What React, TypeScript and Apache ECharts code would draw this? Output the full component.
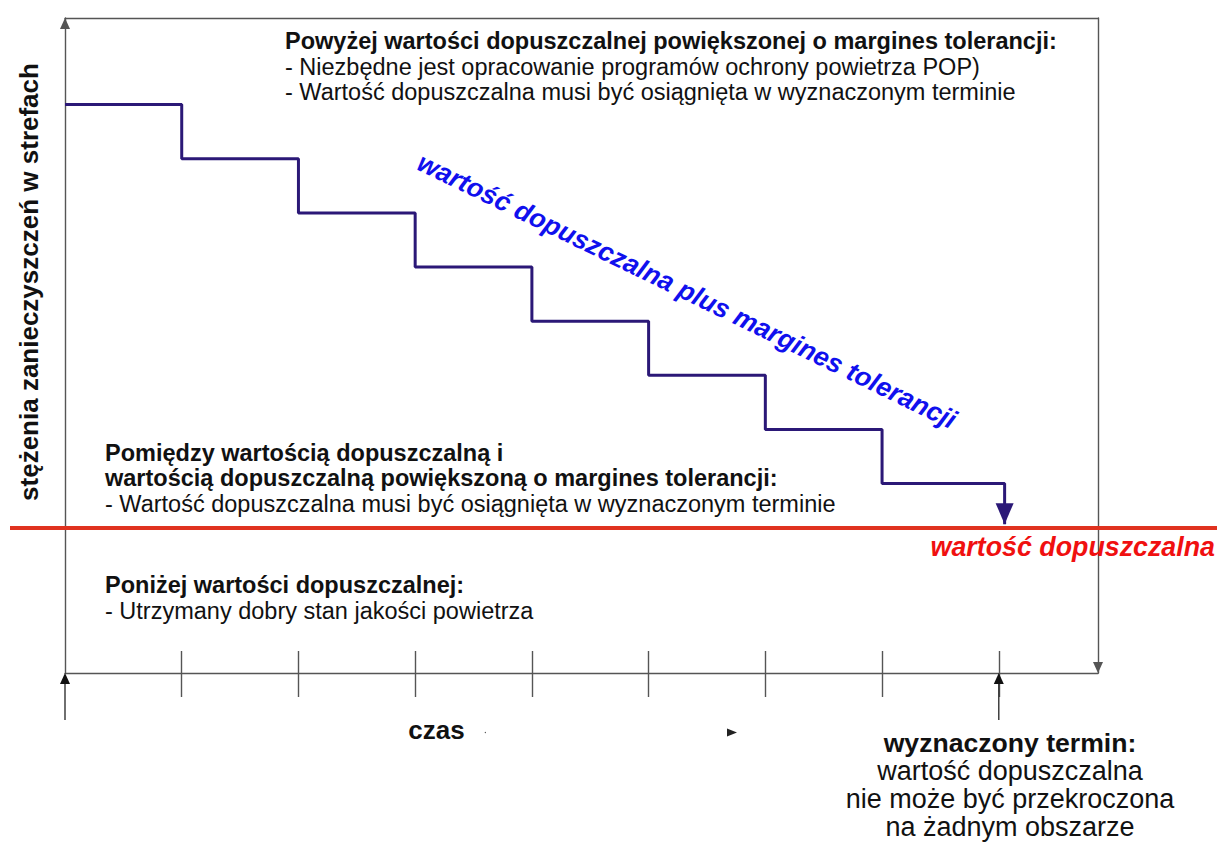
import React, { useEffect, useRef } from "react";
import * as echarts from "echarts";

// ---- data ----
const stepX = [0, 1, 2, 3, 4, 5, 6, 7, 8.05];
const stepY = [105, 95, 85, 75, 65, 55, 45, 35, 35];
const arrowEnd = [8.05, 27.5];
const limitValue = 26.8;
const deadlineX = 8;
const tickPositions = [1, 2, 3, 4, 5, 6, 7, 8];
const xMax = 8.85;
const yMax = 121;

// ---- texts ----
const yTitle = "stężenia zanieczyszczeń w strefach";
const xTitle = "czas";
const stepLabel = "wartość dopuszczalna plus margines tolerancji";
const limitLabel = "wartość dopuszczalna";
const aboveLines = [
  "Powyżej wartości dopuszczalnej powiększonej o margines tolerancji:",
  "- Niezbędne jest opracowanie programów ochrony powietrza POP)",
  "- Wartość dopuszczalna musi być osiągnięta w wyznaczonym terminie",
];
const betweenLines = [
  "Pomiędzy wartością dopuszczalną i",
  "wartością dopuszczalną powiększoną o margines tolerancji:",
  "- Wartość dopuszczalna musi być osiągnięta w wyznaczonym terminie",
];
const belowLines = [
  "Poniżej wartości dopuszczalnej:",
  "- Utrzymany dobry stan jakości powietrza",
];
const deadlineLines = [
  "wyznaczony termin:",
  "wartość dopuszczalna",
  "nie może być przekroczona",
  "na żadnym obszarze",
];

const FONT = '"Liberation Sans", Arial, Helvetica, sans-serif';
const AXIS = "#555";

function txt(
  x: number,
  y: number,
  text: string,
  size: number,
  bold: boolean,
  extra: any = {}
) {
  const align = extra.align || "left";
  return {
    type: "text",
    x,
    y,
    rotation: extra.rotation || 0,
    z: 10,
    style: {
      text,
      fontSize: size,
      lineHeight: extra.lineHeight || Math.round(size * 1.1),
      fontWeight: bold ? "bold" : "normal",
      fontStyle: extra.italic ? "italic" : "normal",
      fontFamily: FONT,
      fill: extra.color || "#111",
      align,
      verticalAlign: "middle",
    },
  };
}

export default function App() {
  const ref = useRef<HTMLDivElement>(null);
  useEffect(() => {
    if (!ref.current) return;
    const chart = echarts.init(ref.current, undefined, { renderer: "svg" });
    const lineData: any[] = stepX.map((x, i) => [x, stepY[i]]);
    lineData.push({
      value: arrowEnd,
      symbol: "triangle",
      symbolSize: [18, 21],
      symbolRotate: 180,
      symbolOffset: [0, -10.5],
      itemStyle: { color: "#2b1877" },
    });
    const axLine = { color: AXIS, width: 1.4 };
    const baseX = {
      type: "value",
      min: 0,
      max: xMax,
      axisLabel: { show: false },
      splitLine: { show: false },
    };
    const baseY = {
      type: "value",
      min: 0,
      max: yMax,
      axisLabel: { show: false },
      splitLine: { show: false },
      axisTick: { show: false },
    };
    chart.setOption({
      animation: false,
      backgroundColor: "#fff",
      grid: { left: 65, right: 119, top: 18, bottom: 169, containLabel: false },
      xAxis: [
        {
          ...baseX,
          position: "bottom",
          axisLine: { show: true, onZero: false, lineStyle: axLine },
          axisTick: {
            show: true,
            inside: true,
            length: 22,
            customValues: tickPositions,
            lineStyle: axLine,
          },
        },
        {
          ...baseX,
          position: "bottom",
          axisLine: { show: false, onZero: false },
          axisTick: {
            show: true,
            inside: false,
            length: 24,
            customValues: tickPositions,
            lineStyle: axLine,
          },
        },
        {
          ...baseX,
          position: "top",
          axisLine: { show: true, onZero: false, lineStyle: axLine },
          axisTick: { show: false },
        },
      ],
      yAxis: [
        {
          ...baseY,
          position: "left",
          axisLine: {
            show: true,
            onZero: false,
            symbol: ["none", "triangle"],
            symbolSize: [10, 11],
            symbolOffset: [0, -5.5],
            lineStyle: axLine,
          },
        },
        {
          ...baseY,
          position: "right",
          axisLine: {
            show: true,
            onZero: false,
            symbol: ["triangle", "none"],
            symbolSize: [10, 11],
            symbolOffset: [5.5, 0],
            lineStyle: axLine,
          },
        },
      ],
      series: [
        {
          type: "line",
          xAxisIndex: 0,
          yAxisIndex: 0,
          step: "end",
          data: lineData,
          symbol: "none",
          showSymbol: true,
          lineStyle: { color: "#2b1877", width: 3 },
          itemStyle: { color: "#2b1877" },
          z: 3,
        },
      ],
    });

    const p0 = chart.convertToPixel({ seriesIndex: 0 }, [0, 0]) as number[];
    const pD = chart.convertToPixel({ seriesIndex: 0 }, [deadlineX, 0]) as number[];
    const pL = chart.convertToPixel({ seriesIndex: 0 }, [0, limitValue]) as number[];
    const yB = p0[1];
    const arrowUp = (x: number) => [
      {
        type: "line",
        shape: { x1: x, y1: yB + 8, x2: x, y2: yB + 47 },
        style: { stroke: "#333", lineWidth: 1.4 },
        z: 5,
      },
      {
        type: "polygon",
        shape: { points: [[x, yB], [x - 5, yB + 11], [x + 5, yB + 11]] },
        style: { fill: "#111" },
        z: 5,
      },
    ];

    const g: any[] = [
      {
        type: "line",
        shape: { x1: 10, y1: pL[1], x2: 1217, y2: pL[1] },
        style: { stroke: "#e0321f", lineWidth: 4 },
        z: 1,
      },
      ...arrowUp(p0[0]),
      ...arrowUp(pD[0]),
      {
        type: "polygon",
        shape: { points: [[727, 728.5], [737, 732.5], [727, 736.5]] },
        style: { fill: "#222" },
      },
      { type: "circle", shape: { cx: 485.3, cy: 732.5, r: 0.6 }, style: { fill: "#444" } },
      txt(28.5, 282, yTitle, 26, true, { align: "center", rotation: Math.PI / 2 }),
      txt(436.5, 730, xTitle, 26, true, { align: "center" }),
      txt(687, 291, stepLabel, 26.6, true, {
        align: "center",
        italic: true,
        color: "#1010ee",
        rotation: (-26 * Math.PI) / 180,
      }),
      txt(1215, 547, limitLabel, 26.8, true, { align: "right", italic: true, color: "#f01010" }),
      ...aboveLines.map((t, i) =>
        txt(285, 41.3 + i * 25.3, t, 23.5, i === 0, { lineHeight: 25 })
      ),
      ...betweenLines.map((t, i) =>
        txt(105, 452.5 + i * 25.8, t, 23.5, i < 2, { lineHeight: 25 })
      ),
      ...belowLines.map((t, i) =>
        txt(105, 585 + i * 26, t, 23.5, i === 0, { lineHeight: 25 })
      ),
      ...deadlineLines.map((t, i) =>
        txt(1010, 743 + i * 28, t, i === 0 ? 26.6 : 27, i === 0, {
          align: "center",
          lineHeight: 27,
        })
      ),
    ];
    chart.setOption({ graphic: { elements: g } });

    return () => chart.dispose();
  }, []);
  return (
    <div
      ref={ref}
      style={{ position: "absolute", left: 0, top: 0, width: 1217, height: 842 }}
    />
  );
}
